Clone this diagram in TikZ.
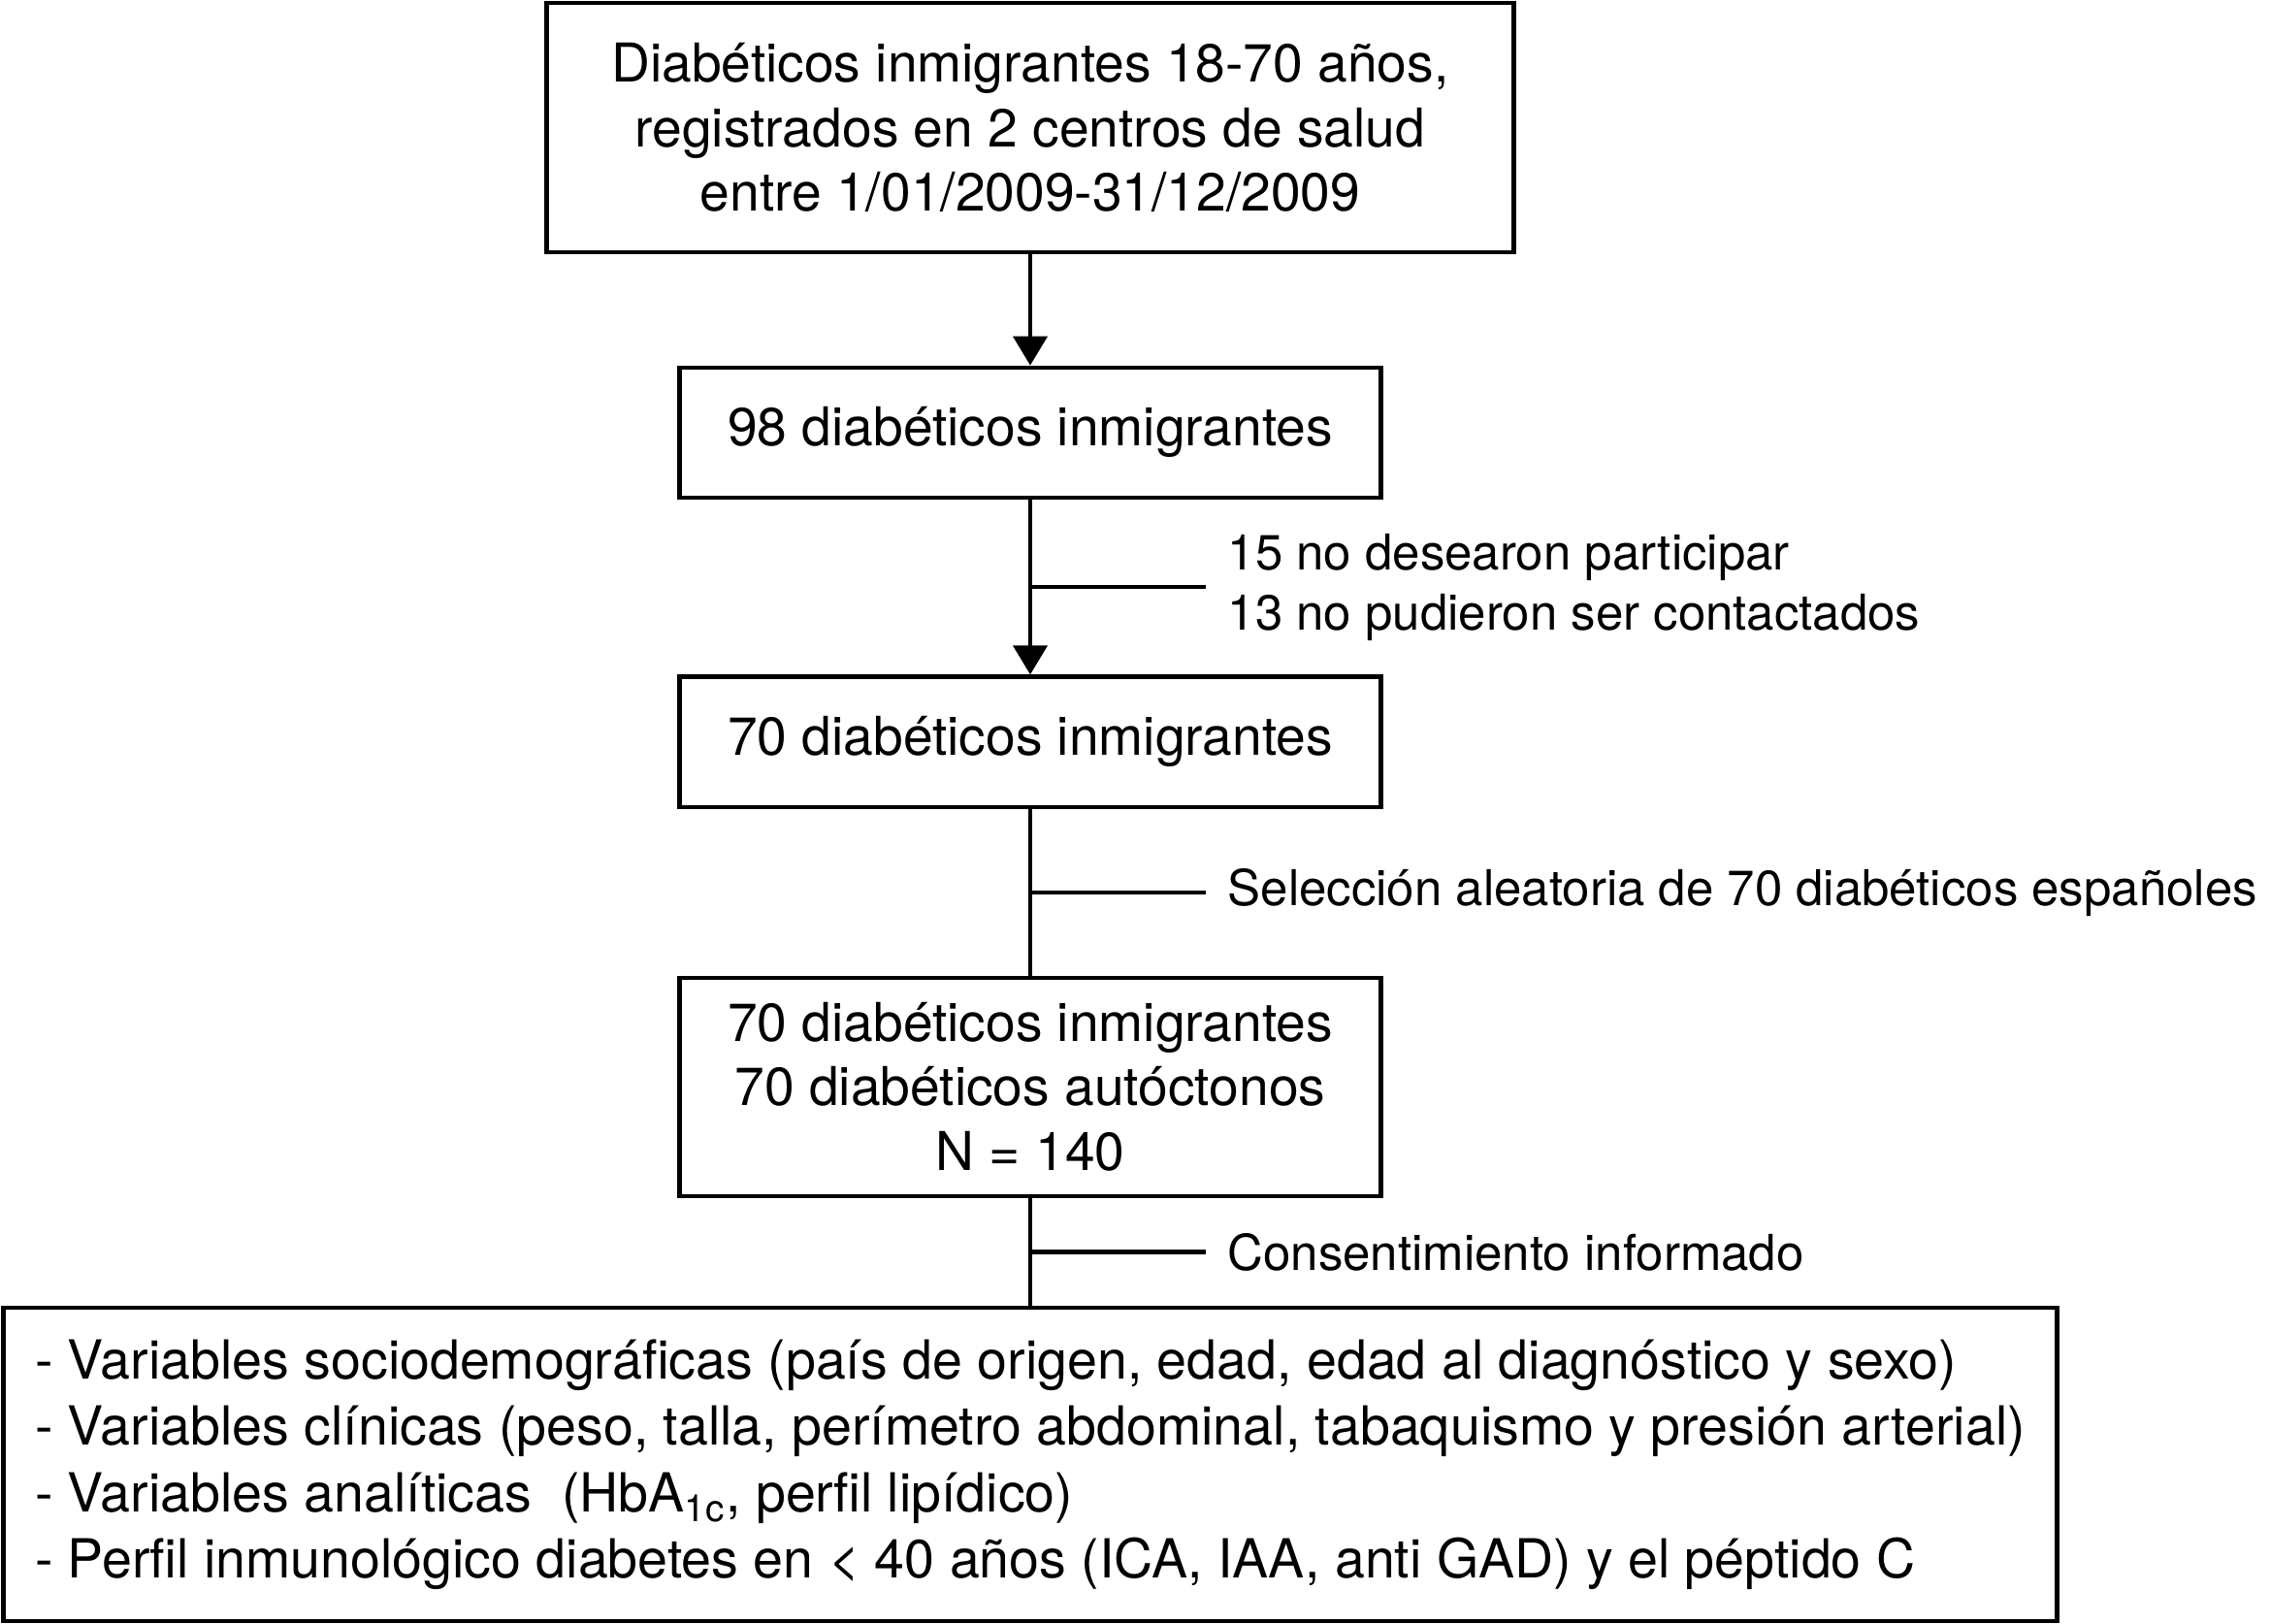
\documentclass[tikz,border=0pt]{standalone}
\usepackage{fontspec}
\setmainfont{TeX Gyre Heros}
\usetikzlibrary{arrows.meta, positioning, calc}
\tikzset{
  box/.style   = {rectangle, draw, line width=1.2pt, align=center,
                  minimum width=7.23cm, minimum height=1.34cm,
                  font=\fontsize{15.7}{19}\selectfont},
  note/.style  = {anchor=west, align=left, inner xsep=0.22cm,
                  font=\fontsize{14.5}{17.6}\selectfont},
  arrow/.style = {-{Triangle[width=0.35cm, length=0.3cm]}, line width=1.2pt},
  link/.style  = {line width=1.2pt},
}
\begin{document}
\begin{tikzpicture}
  \useasboundingbox (0,0) rectangle (23.4,-16.74);
  \node[box, minimum width=9.97cm, minimum height=2.57cm] (reg) at (10.62,-1.315)
        {Diabéticos inmigrantes 18-70 años,\\registrados en 2 centros de salud\\entre 1/01/2009-31/12/2009};
  \node[box, below=1.145cm of reg]  (inm98) {98 diabéticos inmigrantes};
  \node[box, minimum height=1.345cm, below=1.805cm of inm98] (inm70) {70 diabéticos inmigrantes};
  \node[box, minimum height=2.25cm, below=1.715cm of inm70] (tot)
        {70 diabéticos inmigrantes\\70 diabéticos autóctonos\\N = 140};
  \node[box, align=left, minimum width=21.17cm, minimum height=3.225cm,
        font=\fontsize{15.8}{19.5}\selectfont, below=1.115cm of tot] (vars)
        {- Variables sociodemográficas (país de origen, edad, edad al diagnóstico y sexo)\\
         - Variables clínicas (peso, talla, perímetro abdominal, tabaquismo y presión arterial)\\
         - Variables analíticas\ \ (HbA\textsubscript{1c}, perfil lipídico)\\
         - Perfil inmunológico diabetes en < 40 años (ICA, IAA, anti GAD) y el péptido C};
  % side branches
  \coordinate (j1) at ($(inm98.south)!0.5!(inm70.north)$);
  \coordinate (j2) at ($(inm70.south)!0.5!(tot.north)$);
  \coordinate (j3) at ($(tot.south)!0.5!(vars.north)$);
  \node[note] (excl) at ($(j1)+(1.81,0)$) {15 no desearon participar\\13 no pudieron ser contactados};
  \node[note] (sel)  at ($(j2)+(1.81,0)$) {Selección aleatoria de 70 diabéticos españoles};
  \node[note] (cons) at ($(j3)+(1.81,0)$) {Consentimiento informado};
  \draw[arrow] (reg)--(inm98); \draw[arrow] (inm98)--(inm70);
  \draw[link] (inm70)--(tot); \draw[link] (tot)--(vars);
  \draw[link] (j1)--(excl.west); \draw[link] (j2)--(sel.west);
  \draw[link] (j3)--(cons.west);
\end{tikzpicture}
\end{document}
